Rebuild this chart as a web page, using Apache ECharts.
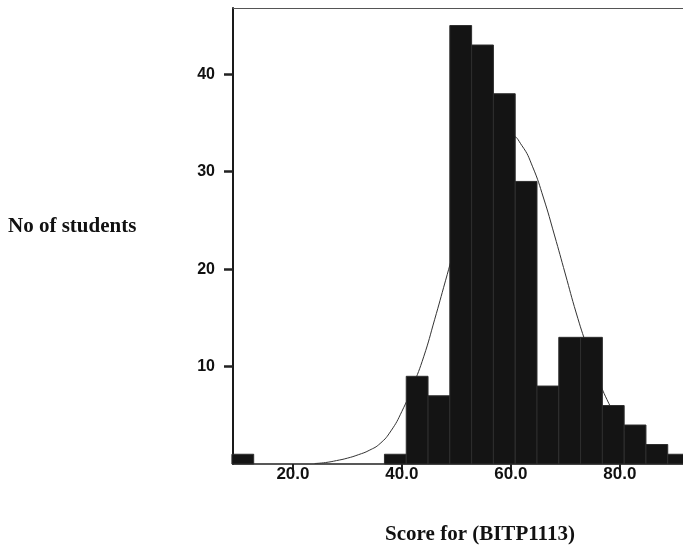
<!DOCTYPE html>
<html lang="en">

<head>
  <meta charset="UTF-8">
  <meta name="viewport" content="width=device-width, initial-scale=1.0">
  <title>Score histogram</title>
  <style>
    html,
    body {
      margin: 0;
      padding: 0;
      background: #fff;
    }

    #chart {
      width: 683px;
      height: 550px;
    }
  </style>
</head>

<body>
  <div id="chart"></div>
</body>
<script src="https://cdn.jsdelivr.net/npm/echarts@6/dist/echarts.min.js"></script>
<script>
  // histogram bins (lower edge) and the number of students in each
  var binWidth = 4
  var binLow = [8.8, 36.8, 40.8, 44.8, 48.8, 52.8, 56.8, 60.8, 64.8, 68.8, 72.8, 76.8, 80.8, 84.8, 88.8]
  var counts = [1, 1, 9, 7, 45, 43, 38, 29, 8, 13, 13, 6, 4, 2, 1]

  // normal curve
  var curveX = [24, 26, 28, 30, 32, 34, 36, 38, 40, 42, 44, 46, 48, 50, 52, 54, 56, 58, 60, 62, 64, 66, 68, 70, 72, 74, 76, 78, 80, 82, 84, 86, 88, 90, 92]
  var curveY = [0.05, 0.15, 0.35, 0.6, 0.95, 1.4, 2.1, 3.4, 5.4, 8.0, 11.0, 14.8, 18.8, 22.8, 26.6, 29.8, 32.2, 33.5, 33.7, 32.7, 30.5, 27.3, 23.5, 19.5, 15.5, 12.0, 8.8, 6.2, 4.2, 2.7, 1.7, 1.0, 0.55, 0.3, 0.15]

  // tick labels
  var xTicks = [20, 40, 60, 80]
  var yTicks = [10, 20, 30, 40]

  var histData = binLow.map(function (lo, i) {
    return [lo, lo + binWidth, counts[i]]
  })
  var curveData = curveX.map(function (x, i) {
    return [x, curveY[i]]
  })

  function renderBin(params, api) {
    var topLeft = api.coord([api.value(0), api.value(2)])
    var bottomRight = api.coord([api.value(1), 0])
    return {
      type: 'rect',
      shape: {
        x: topLeft[0],
        y: topLeft[1],
        width: bottomRight[0] - topLeft[0],
        height: bottomRight[1] - topLeft[1]
      },
      style: {
        fill: '#141414',
        stroke: '#2e2e2e',
        lineWidth: 1
      }
    }
  }

  var myChart = echarts.init(document.getElementById('chart'))
  var option = {
    animation: false,
    backgroundColor: '#fff',
    grid: {
      left: 233,
      right: 0,
      top: 8,
      bottom: 86
    },
    xAxis: [{
      type: 'value',
      min: 9,
      max: 91.6,
      axisLine: {
        show: true,
        lineStyle: { color: '#222', width: 1.5 }
      },
      axisTick: {
        show: true,
        customValues: xTicks,
        length: 8,
        lineStyle: { color: '#222', width: 2 }
      },
      axisLabel: {
        customValues: xTicks,
        margin: 2,
        formatter: function (v) { return v.toFixed(1) },
        fontFamily: 'Liberation Sans',
        fontWeight: 'bold',
        fontSize: 17,
        color: '#111'
      },
      splitLine: { show: false }
    }, {
      // thin frame line along the top
      type: 'value',
      position: 'top',
      min: 9,
      max: 91.6,
      axisLine: {
        show: true,
        lineStyle: { color: '#555', width: 1 }
      },
      axisTick: { show: false },
      axisLabel: { show: false },
      splitLine: { show: false }
    }],
    yAxis: {
      type: 'value',
      min: 0,
      max: 46.8,
      axisLine: {
        show: true,
        lineStyle: { color: '#1a1a1a', width: 2 }
      },
      axisTick: {
        show: true,
        customValues: yTicks,
        length: 9,
        lineStyle: { color: '#222', width: 2.5 }
      },
      axisLabel: {
        customValues: yTicks,
        margin: 18,
        fontFamily: 'Liberation Sans',
        fontWeight: 'bold',
        fontSize: 16,
        color: '#111'
      },
      splitLine: { show: false }
    },
    graphic: [{
      type: 'text',
      x: 8,
      y: 227,
      style: {
        text: 'No of students',
        font: 'bold 21px "Liberation Serif"',
        fill: '#111',
        align: 'left',
        verticalAlign: 'middle'
      }
    }, {
      type: 'text',
      x: 480,
      y: 535,
      style: {
        text: 'Score for (BITP1113)',
        font: 'bold 21px "Liberation Serif"',
        fill: '#111',
        align: 'center',
        verticalAlign: 'middle'
      }
    }],
    series: [{
      name: 'normal',
      type: 'line',
      data: curveData,
      smooth: true,
      showSymbol: false,
      z: 1,
      lineStyle: { color: '#333', width: 1 }
    }, {
      name: 'students',
      type: 'custom',
      renderItem: renderBin,
      data: histData,
      encode: { x: [0, 1], y: 2 },
      clip: false,
      z: 2
    }]
  }
  myChart.setOption(option)
</script>

</html>
